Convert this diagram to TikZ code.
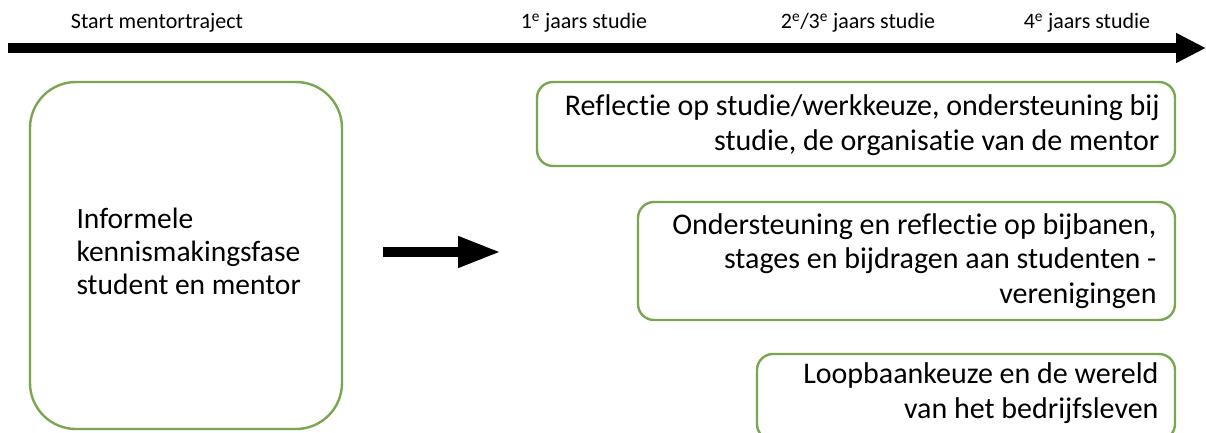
\documentclass[tikz,border=0pt]{standalone}
\usepackage{fontspec}
\setmainfont[Ligatures=NoCommon]{Carlito}
\usetikzlibrary{arrows.meta}
\definecolor{boxgreen}{RGB}{122,166,82}
\tikzset{
  x=1pt, y=-1pt,
  box/.style={draw=boxgreen, line width=2.4pt, rounded corners=#1, inner sep=0pt},
  box/.default=16pt,
  boxtext/.style={font=\fontsize{30}{34.5}\selectfont, align=right, anchor=east},
  tlabel/.style={font=\fontsize{22}{24}\selectfont, anchor=base},
  bigarrow/.style={line width=9.5pt, -{Triangle[length=30pt,width=28pt]}},
}
\begin{document}
\begin{tikzpicture}
\useasboundingbox (0,0) rectangle (1206,433);
\fill[white] (0,0) rectangle (1206,433);
% timeline
\coordinate (tl0) at (8,48);
\coordinate (tl1) at (1206,48);
\draw[bigarrow] (tl0) -- (tl1);
\node[tlabel] (l0) at (157,29) {Start mentortraject};
\node[tlabel] (l1) at (584,29) {1\textsuperscript{e} jaars studie};
\node[tlabel] (l2) at (858,29) {2\textsuperscript{e}/3\textsuperscript{e} jaars studie};
\node[tlabel] (l3) at (1087,29) {4\textsuperscript{e} jaars studie};
% left box
\draw[box=46pt] (30,82) rectangle (342,429);
\node[font=\fontsize{29.5}{33}\selectfont, align=left, anchor=west] (intro) at (73,251)
  {Informele\\kennismakingsfase\\student en mentor};
% middle arrow
\coordinate (m0) at (383,252);
\coordinate (m1) at (501,252);
\draw[line width=10pt, -{Triangle[length=43pt,width=29pt]}] (m0) -- (m1);
% right boxes
\draw[box] (537,82) rectangle (1175,166);
\node[boxtext] (b1) at (1163,125) {Reflectie op studie/werkkeuze, ondersteuning bij\\studie, de organisatie van de mentor};
\draw[box] (638,202) rectangle (1175,320);
\node[boxtext] (b2) at (1160,261) {Ondersteuning en reflectie op bijbanen,\\stages en bijdragen aan studenten -\\verenigingen};
\draw[box] (757,354) rectangle (1175,440);
\node[boxtext] (b3) at (1162,393) {Loopbaankeuze en de wereld\\van het bedrijfsleven};
\end{tikzpicture}
\end{document}
